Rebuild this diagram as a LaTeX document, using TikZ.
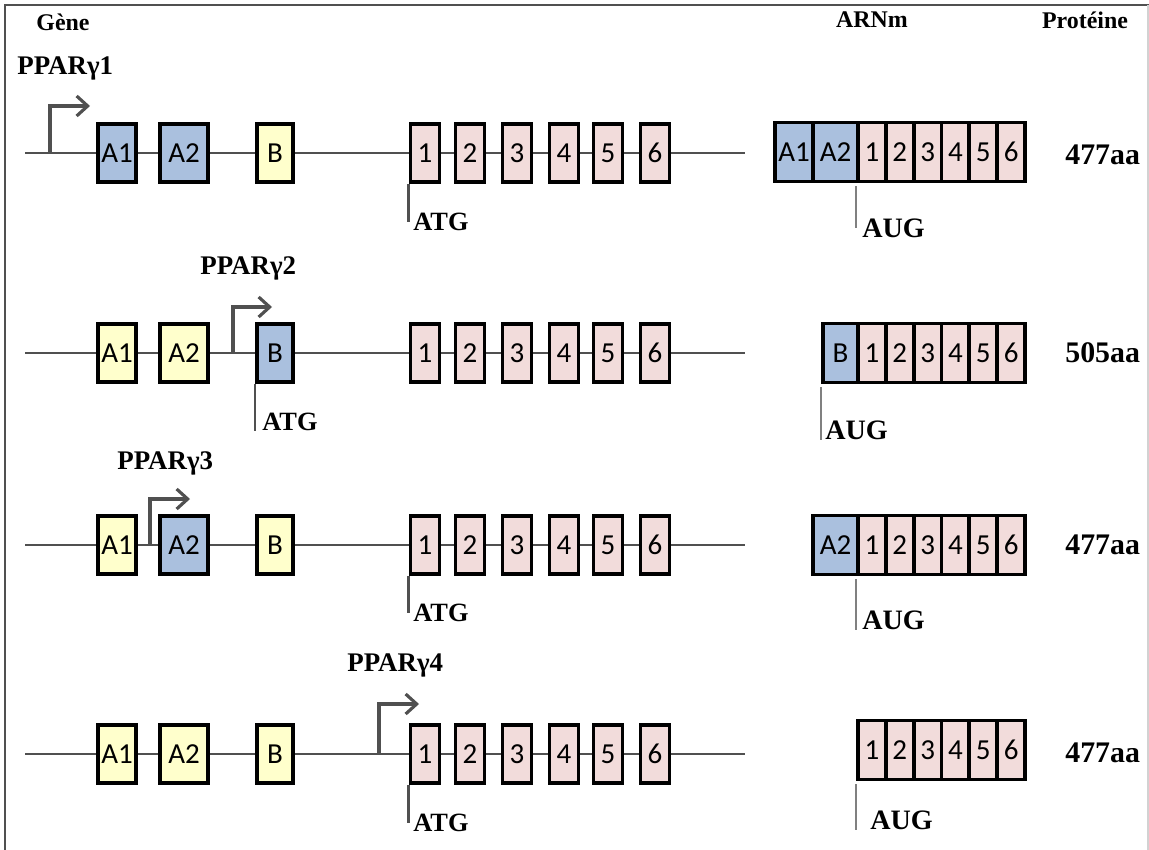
\documentclass[tikz,border=0pt]{standalone}
\usepackage{fontspec}
\setmainfont{Liberation Serif}
\newfontfamily\calib{Carlito}
\usetikzlibrary{arrows.meta,positioning}

\definecolor{exblue}{RGB}{170,192,222}
\definecolor{exyellow}{RGB}{255,255,204}
\definecolor{expink}{RGB}{242,220,219}
\definecolor{linegray}{RGB}{80,80,80}

\begin{document}
\begin{tikzpicture}[x=0.2mm, y=-0.2mm,
    exon/.style={
        draw=black,
        line width=2.2pt,
        minimum width=5.8mm,
        minimum height=11.6mm,
        inner sep=0pt,
        font=\calib\fontsize{16.5}{16.5}\selectfont
    },
    cell/.style={exon, minimum width=5.57mm, minimum height=11.8mm, fill=expink},
    gene/.style={linegray, line width=1.3pt},
    tss/.style={linegray, line width=1.8pt, -{Straight Barb[length=2.2mm,width=4mm]}},
    marker/.style={linegray, line width=1.4pt},
    head/.style={inner sep=0pt, font=\bfseries\fontsize{13.6}{14}\selectfont},
    iso/.style={inner sep=0pt, anchor=west, font=\bfseries\fontsize{15.3}{16}\selectfont},
    codon/.style={inner sep=0pt, anchor=west, font=\bfseries\fontsize{15}{16}\selectfont},
    prot/.style={inner sep=0pt, anchor=west, font=\bfseries\fontsize{17}{18}\selectfont}
]
\useasboundingbox (0,0) rectangle (1149,850);

% frame
\draw[linegray, line width=1.2pt] (5,850) -- (5,5) -- (1149,5);
\draw[gray!35, line width=0.8pt] (1148,5) -- (1148,850);

% column titles
\node[head] (tgene) at (63,22)   {Gène};
\node[head] (tarn)  at (872,20)  {ARNm};
\node[head] (tprot) at (1085,20) {Protéine};

% gene lines, exons 1-6 and mRNA exons 1-6, same in every row
\foreach \r/\y/\m in {1/153/152, 2/353/353, 3/545/545, 4/754/750} {
    \coordinate (g\r a) at (25,\y);
    \coordinate (g\r b) at (745,\y);
    \draw[gene] (g\r a) -- (g\r b);
    \foreach \i/\x in {1/425, 2/470, 3/517, 4/564, 5/608, 6/655}
        \node[exon, fill=expink] (r\r e\i) at (\x,\y) {\i};
    \foreach \i/\x in {1/871.9, 2/899.7, 3/927.6, 4/955.4, 5/983.2, 6/1011.1}
        \node[cell] (m\r c\i) at (\x,\m) {\i};
}

% row 1 -- PPARg1
\node[exon, fill=exblue, minimum width=7.6mm]   (r1a1) at (117,153) {A1};
\node[exon, fill=exblue, minimum width=9.6mm]   (r1a2) at (184,153) {A2};
\node[exon, fill=exyellow, minimum width=7.2mm] (r1b)  at (275,153) {B};
\node[iso] (iso1) at (17,68) {PPARγ1};
\coordinate (tss1)  at (50,153);
\coordinate (tss1e) at (90,106);
\draw[tss] (tss1) |- (tss1e);
\node[codon] (atg1) at (413,222) {ATG};
\draw[marker] (r1e1.south west) -- (r1e1.south west |- atg1.west);
\node[cell, fill=exblue, minimum width=7.6mm] (m1a1) at (794,152)   {A1};
\node[cell, fill=exblue, minimum width=9mm]   (m1a2) at (835.5,152) {A2};
\node[codon, font=\bfseries\fontsize{16}{17}\selectfont] (aug1) at (862,228) {AUG};
\draw[marker, gray] ([yshift=-0.6mm]m1c1.south west) -- (m1c1.south west |- aug1.west);
\node[prot] (p1) at (1065,155) {477aa};

% row 2 -- PPARg2
\node[exon, fill=exyellow, minimum width=7.6mm] (r2a1) at (117,353) {A1};
\node[exon, fill=exyellow, minimum width=9.6mm] (r2a2) at (184,353) {A2};
\node[exon, fill=exblue, minimum width=7.2mm]   (r2b)  at (275,353) {B};
\node[iso] (iso2) at (200,268) {PPARγ2};
\coordinate (tss2)  at (233,353);
\coordinate (tss2e) at (272,307);
\draw[tss] (tss2) |- (tss2e);
\node[codon] (atg2) at (262,422) {ATG};
\draw[marker] (r2b.south west) -- (r2b.south west |- atg2.south);
\node[cell, fill=exblue, minimum width=7mm] (m2b) at (840.5,353) {B};
\node[codon, font=\bfseries\fontsize{16}{17}\selectfont] (aug2) at (825,430) {AUG};
\draw[marker, gray] ([yshift=-0.6mm]m2b.south west) -- (m2b.south west |- aug2.south);
\node[prot] (p2) at (1065,353) {505aa};

% row 3 -- PPARg3
\node[exon, fill=exyellow, minimum width=7.6mm] (r3a1) at (117,545) {A1};
\node[exon, fill=exblue, minimum width=9.6mm]   (r3a2) at (184,545) {A2};
\node[exon, fill=exyellow, minimum width=7.2mm] (r3b)  at (275,545) {B};
\node[iso] (iso3) at (117,463) {PPARγ3};
\coordinate (tss3)  at (150,545);
\coordinate (tss3e) at (190,499);
\draw[tss] (tss3) |- (tss3e);
\node[codon] (atg3) at (413,613) {ATG};
\draw[marker] (r3e1.south west) -- (r3e1.south west |- atg3.west);
\node[cell, fill=exblue, minimum width=9mm] (m3a2) at (835.5,545) {A2};
\node[codon, font=\bfseries\fontsize{16}{17}\selectfont] (aug3) at (862,620) {AUG};
\draw[marker, gray] ([yshift=-0.6mm]m3c1.south west) -- (m3c1.south west |- aug3.south);
\node[prot] (p3) at (1065,545) {477aa};

% row 4 -- PPARg4
\node[exon, fill=exyellow, minimum width=7.6mm] (r4a1) at (117,754) {A1};
\node[exon, fill=exyellow, minimum width=9.6mm] (r4a2) at (184,754) {A2};
\node[exon, fill=exyellow, minimum width=7.2mm] (r4b)  at (275,754) {B};
\node[iso] (iso4) at (347,665) {PPARγ4};
\coordinate (tss4)  at (379,754);
\coordinate (tss4e) at (419,704);
\draw[tss] (tss4) |- (tss4e);
\node[codon] (atg4) at (413,823) {ATG};
\draw[marker] (r4e1.south west) -- (r4e1.south west |- atg4.west);
\node[codon, font=\bfseries\fontsize{16}{17}\selectfont] (aug4) at (870,820) {AUG};
\draw[marker, gray] ([yshift=-0.6mm]m4c1.south west) -- (m4c1.south west |- aug4.south);
\node[prot] (p4) at (1065,753) {477aa};

\end{tikzpicture}
\end{document}
